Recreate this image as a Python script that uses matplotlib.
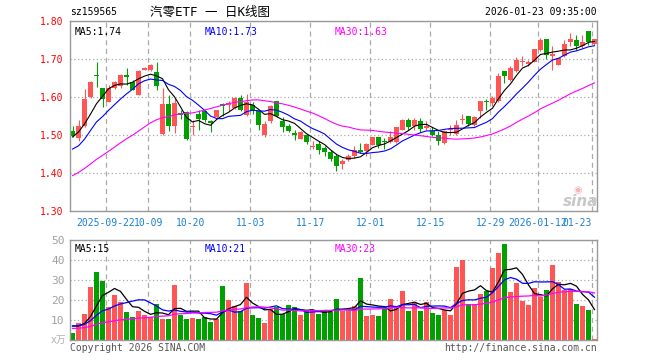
import numpy as np
import pandas as pd
import matplotlib
matplotlib.use('Agg')
import matplotlib.pyplot as plt

plt.rcParams['font.family'] = ['DejaVu Sans Mono', 'Noto Sans CJK SC']

# daily bars, 2025-09-12 .. 2026-01-23
opens = [1.510, 1.492, 1.525, 1.600, 1.658, 1.624, 1.588, 1.624, 1.628, 1.659,
         1.639, 1.606, 1.670, 1.670, 1.667, 1.503, 1.582, 1.525, 1.557, 1.560,
         1.520, 1.556, 1.562, 1.536, 1.547, 1.582, 1.580, 1.571, 1.598, 1.553,
         1.580, 1.562, 1.499, 1.536, 1.589, 1.536, 1.525, 1.505, 1.490, 1.501,
         1.468, 1.477, 1.466, 1.454, 1.446, 1.424, 1.435, 1.444, 1.461, 1.457,
         1.475, 1.495, 1.485, 1.481, 1.481, 1.514, 1.540, 1.523, 1.538, 1.519,
         1.511, 1.501, 1.479, 1.512, 1.503, 1.540, 1.551, 1.527, 1.562, 1.590,
         1.584, 1.589, 1.668, 1.644, 1.668, 1.692, 1.687, 1.692, 1.725, 1.753,
         1.707, 1.685, 1.707, 1.746, 1.751, 1.733, 1.775, 1.740]
highs = [1.523, 1.540, 1.621, 1.643, 1.693, 1.625, 1.631, 1.641, 1.661, 1.676,
         1.646, 1.672, 1.679, 1.687, 1.693, 1.624, 1.606, 1.597, 1.565, 1.562,
         1.540, 1.567, 1.567, 1.540, 1.567, 1.583, 1.590, 1.599, 1.605, 1.609,
         1.586, 1.567, 1.536, 1.578, 1.590, 1.547, 1.529, 1.514, 1.510, 1.503,
         1.483, 1.483, 1.470, 1.461, 1.451, 1.438, 1.450, 1.470, 1.479, 1.479,
         1.496, 1.495, 1.492, 1.510, 1.522, 1.541, 1.545, 1.545, 1.545, 1.536,
         1.521, 1.510, 1.514, 1.527, 1.540, 1.554, 1.551, 1.549, 1.590, 1.595,
         1.602, 1.663, 1.668, 1.681, 1.705, 1.707, 1.698, 1.727, 1.754, 1.753,
         1.735, 1.703, 1.751, 1.768, 1.764, 1.764, 1.775, 1.753]
lows = [1.494, 1.485, 1.520, 1.598, 1.626, 1.574, 1.587, 1.621, 1.624, 1.631,
        1.618, 1.604, 1.670, 1.669, 1.619, 1.500, 1.511, 1.505, 1.542, 1.487,
        1.501, 1.514, 1.534, 1.507, 1.545, 1.549, 1.562, 1.569, 1.563, 1.549,
        1.555, 1.514, 1.494, 1.532, 1.548, 1.507, 1.507, 1.486, 1.490, 1.476,
        1.464, 1.451, 1.446, 1.432, 1.404, 1.411, 1.432, 1.440, 1.453, 1.446,
        1.474, 1.466, 1.464, 1.479, 1.479, 1.513, 1.514, 1.514, 1.507, 1.512,
        1.497, 1.475, 1.477, 1.501, 1.501, 1.530, 1.523, 1.525, 1.545, 1.567,
        1.577, 1.586, 1.637, 1.643, 1.666, 1.681, 1.681, 1.691, 1.720, 1.701,
        1.672, 1.683, 1.706, 1.733, 1.725, 1.729, 1.738, 1.738]
closes = [1.498, 1.525, 1.595, 1.640, 1.654, 1.595, 1.624, 1.640, 1.659, 1.652,
          1.619, 1.669, 1.676, 1.684, 1.630, 1.582, 1.523, 1.583, 1.553, 1.490,
          1.523, 1.543, 1.540, 1.532, 1.565, 1.577, 1.584, 1.597, 1.566, 1.587,
          1.562, 1.527, 1.530, 1.575, 1.549, 1.520, 1.510, 1.499, 1.507, 1.481,
          1.472, 1.461, 1.454, 1.438, 1.419, 1.432, 1.446, 1.461, 1.455, 1.476,
          1.495, 1.475, 1.481, 1.495, 1.521, 1.540, 1.521, 1.539, 1.517, 1.523,
          1.499, 1.483, 1.511, 1.516, 1.527, 1.543, 1.530, 1.547, 1.590, 1.588,
          1.597, 1.656, 1.656, 1.676, 1.698, 1.695, 1.691, 1.725, 1.751, 1.711,
          1.713, 1.703, 1.740, 1.753, 1.733, 1.746, 1.746, 1.753]
volumes = [3.7, 8.3, 13.0, 26.5, 34.0, 29.5, 16.3, 22.5, 19.2, 14.0,
           11.3, 14.7, 12.5, 11.7, 18.0, 10.5, 10.5, 27.7, 12.5, 10.5,
           11.0, 10.5, 11.3, 9.2, 10.3, 27.0, 20.0, 17.0, 14.3, 28.7,
           12.5, 11.2, 8.7, 15.3, 16.3, 13.0, 17.5, 16.7, 12.5, 14.5,
           14.5, 13.2, 14.5, 14.2, 20.5, 14.7, 14.7, 17.0, 31.2, 12.2,
           12.5, 12.0, 15.5, 20.5, 16.2, 24.5, 14.7, 18.7, 14.7, 19.2,
           13.7, 12.5, 15.0, 12.5, 36.7, 40.0, 18.0, 18.0, 23.0, 24.5,
           36.2, 43.7, 48.0, 24.2, 28.3, 19.7, 17.5, 26.2, 21.7, 25.0,
           37.5, 28.8, 25.0, 25.3, 18.0, 17.0, 15.0, 0.7]

# earlier sessions (off-screen), only needed for the moving averages
prev_closes = [1.27, 1.28, 1.29, 1.28, 1.29, 1.30, 1.31, 1.32, 1.33, 1.34,
               1.34, 1.35, 1.36, 1.39, 1.42, 1.43, 1.45, 1.47, 1.47, 1.47,
               1.44, 1.42, 1.41, 1.43, 1.455, 1.46, 1.49, 1.51, 1.517]
prev_volumes = [5, 5, 6, 5, 4, 5, 5, 6, 5, 5, 5, 6, 5, 5, 6, 5, 5, 5, 6, 5,
                7, 6, 8, 7, 7, 8, 7, 9, 7.3]

tick_idx = [6, 13, 20, 30, 40, 50, 60, 70, 78, 87]
tick_labels = ['2025-09-22', '10-09', '10-20', '11-03', '11-17',
               '12-01', '12-15', '12-29', '2026-01-12', '01-23']

RED = '#ff5555'
GREEN = '#00a000'
GRID = '#aaaaaa'
n = len(closes)
x = np.arange(n)
o = np.array(opens)
c = np.array(closes)
up = c >= o
colors = [RED if u else GREEN for u in up]

all_c = pd.Series(prev_closes + closes)
all_v = pd.Series(prev_volumes + volumes)
ma = {k: all_c.rolling(k).mean().values[-n:] for k in (5, 10, 30)}
vma = {k: all_v.rolling(k).mean().values[-n:] for k in (5, 10, 30)}
ma_colors = {5: 'black', 10: 'blue', 30: 'magenta'}

W, H = 660, 360
fig = plt.figure(figsize=(6.6, 3.6), dpi=100)


def px_axes(l, t, r, b):
    return fig.add_axes([l / W, 1 - b / H, (r - l) / W, (b - t) / H])


def style(ax):
    for s in ax.spines.values():
        s.set_color('#999999')
        s.set_linewidth(1)
    ax.set_xlim(-0.42, n - 0.58)
    ax.set_xticks([i - 0.4 for i in tick_idx])
    ax.grid(axis='x', color=GRID, linestyle=(0, (4, 3)), linewidth=0.9)
    ax.grid(axis='y', color=GRID, linestyle=(0, (1, 2)), linewidth=0.9)
    ax.set_axisbelow(True)
    ax.tick_params(length=0, labelsize=7)


# price panel
ax = px_axes(70, 21, 597, 211)
style(ax)
ax.set_ylim(1.30, 1.80)
yt = [1.30, 1.40, 1.50, 1.60, 1.70, 1.80]
ax.set_yticks(yt)
ax.set_yticklabels(['%.2f' % v for v in yt])
ax.tick_params(axis='y', labelcolor='red', pad=5)
ax.set_xticklabels(tick_labels)
ax.tick_params(axis='x', labelcolor='#1a80d0', pad=5)
ax.get_xticklabels()[-1].set_horizontalalignment('right')

ax.vlines(x, lows, highs, colors=colors, linewidth=0.8, zorder=2)
body = np.maximum(np.abs(c - o), 0.0012)
ax.bar(x, body, bottom=np.minimum(o, c), width=0.82, color=colors, zorder=2)
for k in (5, 10, 30):
    ax.plot(x, ma[k], color=ma_colors[k], linewidth=0.8, zorder=3)

ax.text(5 / 527, 0.97, 'MA5:1.74', transform=ax.transAxes, color='black',
        fontsize=7, va='top')
ax.text(135 / 527, 0.97, 'MA10:1.73', transform=ax.transAxes, color='blue',
        fontsize=7, va='top')
ax.text(265 / 527, 0.97, 'MA30:1.63', transform=ax.transAxes, color='magenta',
        fontsize=7, va='top')

# volume panel
av = px_axes(70, 240, 597, 340)
style(av)
av.set_ylim(0, 50)
av.set_yticks([0, 10, 20, 30, 40, 50])
av.set_yticklabels(['', '10', '20', '30', '40', '50'])
av.tick_params(axis='y', labelcolor='#a0a0a0', labelsize=8, pad=4)
av.set_xticklabels([])
av.bar(x, volumes, width=0.82, color=colors, zorder=2)
for k in (5, 10, 30):
    av.plot(x, vma[k], color=ma_colors[k], linewidth=0.9, zorder=3)
av.text(5 / 527, 0.96, 'MA5:15', transform=av.transAxes, color='black',
        fontsize=7, va='top')
av.text(135 / 527, 0.96, 'MA10:21', transform=av.transAxes, color='blue',
        fontsize=7, va='top')
av.text(265 / 527, 0.96, 'MA30:23', transform=av.transAxes, color='magenta',
        fontsize=7, va='top')

# header / footer text
fig.text(70 / W, 1 - 12 / H, 'sz159565', fontsize=7, va='center')
fig.text(150 / W, 1 - 12 / H, '汽零ETF 一 日K线图', fontsize=9, va='center')
fig.text(597 / W, 1 - 12 / H, '2026-01-23 09:35:00', fontsize=7,
         va='center', ha='right')
fig.text(66 / W, 1 - 340 / H, 'x万', fontsize=7, color='#b0b0b0',
         va='center', ha='right')
fig.text(70 / W, 1 - 348 / H, 'Copyright 2026 SINA.COM', fontsize=7,
         color='#555555', va='center')
fig.text(597 / W, 1 - 348 / H, 'http://finance.sina.com.cn', fontsize=7,
         color='#555555', va='center', ha='right')

# sina watermark
fig.text(581 / W, 1 - 201 / H, 'sina', fontsize=11, color='#c8c8c8',
         family='DejaVu Sans', fontweight='bold', style='italic',
         ha='center', va='center')
fig.text(578 / W, 1 - 190 / H, '◉', fontsize=7, color='#f2b8b8',
         family='DejaVu Sans', ha='center', va='center')

fig.savefig('out.png', dpi=100)
